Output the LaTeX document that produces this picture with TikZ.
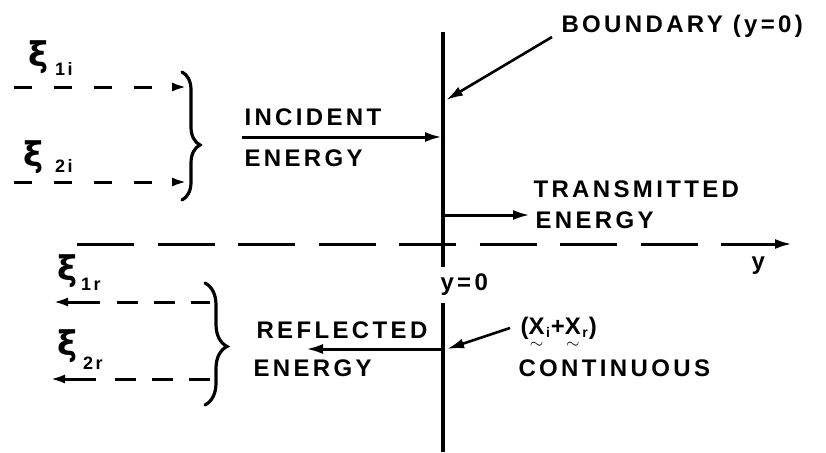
\documentclass[tikz,border=0pt]{standalone}
\usepackage{amsmath}
\usepackage{fontspec}
\setmainfont{Liberation Sans}
\newfontfamily\lblfont{Liberation Sans}[LetterSpace=14]
\newfontfamily\xifont{DejaVu Sans}
\usetikzlibrary{arrows.meta,decorations.pathreplacing}
\newcommand\tvec[1]{\ensuremath{\underset{\sim}{\text{#1}}}}
\newcommand\lowsub[1]{\kern1.5pt\raisebox{-3pt}{\fontsize{14}{14}\selectfont #1}\kern1pt}
\begin{document}
\begin{tikzpicture}[x=1pt,y=-1pt,line width=3pt,
  lbl/.style={font=\lblfont\bfseries\fontsize{24}{26}\selectfont,inner sep=0pt,anchor=base west},
  xi/.style={font=\xifont\bfseries\fontsize{34}{34}\selectfont,inner sep=0pt},
  sub/.style={font=\lblfont\bfseries\fontsize{18}{18}\selectfont,inner sep=0pt},
  bigarrow/.style={-{Latex[length=17pt,width=10pt]}},
  smallarrow/.style={-{Latex[length=15pt,width=9pt]}},
  xidash/.style={dash pattern=on 18pt off 22pt},
  rdash/.style={dash pattern=on 21pt off 16pt},
  axisdash/.style={dash pattern=on 57pt off 23.5pt},
  bracestyle/.style={decorate,line width=3.2pt,line cap=round}]
\useasboundingbox (0,0) rectangle (826,452);

% boundary line
\coordinate (btop) at (443,32);
\coordinate (bmid1) at (443,267);
\coordinate (bmid2) at (443,303);
\coordinate (bbot) at (443,452);
\draw[line width=3.6pt] (btop) -- (bmid1);
\draw[line width=3.6pt] (bmid2) -- (bbot);

% axis
\coordinate (ax0) at (77,244);
\coordinate (ax1) at (698,244);
\coordinate (ax2) at (721,244);
\coordinate (ax3) at (792,244);
\draw[axisdash] (ax0) -- (ax1);
\draw[bigarrow] (ax2) -- (ax3);
\node[lbl] (ylab) at (750,269) {y};
\node[lbl] (y0) at (439,290) {y=0};

% boundary label
\node[lbl] (bnd) at (560,33) {BOUNDARY (y=0)};
\coordinate (bndfrom) at (552,37);
\coordinate (bndto) at (446,100);
\draw[bigarrow,line width=2.6pt] (bndfrom) -- (bndto);

% incident
\node[lbl] (inc1) at (243,125) {INCIDENT};
\node[lbl] (inc2) at (243,166) {ENERGY};
\coordinate (incfrom) at (242,137);
\coordinate (incto) at (442,137);
\draw[bigarrow] (incfrom) -- (incto);

% transmitted
\node[lbl] (tr1) at (532,197) {TRANSMITTED};
\node[lbl] (tr2) at (534,228) {ENERGY};
\coordinate (trfrom) at (443,215);
\coordinate (trto) at (530,215);
\draw[bigarrow] (trfrom) -- (trto);

% reflected
\node[lbl] (rf1) at (255,338) {REFLECTED};
\node[lbl] (rf2) at (252,376) {ENERGY};
\coordinate (rffrom) at (443,349);
\coordinate (rfto) at (306,349);
\draw[bigarrow] (rffrom) -- (rfto);

% continuous
\node[lbl] (xx) at (519,334) {(\tvec{X}\lowsub{i}+\tvec{X}\lowsub{r})};
\node[lbl] (cont) at (517,376) {CONTINUOUS};
\coordinate (ctfrom) at (510,328);
\coordinate (ctto) at (447,349);
\draw[bigarrow,line width=2.6pt] (ctfrom) -- (ctto);

% incident xi lines
\node[xi] (xi1i) at (39,57) {ξ};
\node[sub] (s1i) at (64,69) {1i};
\node[xi] (xi2i) at (34,157) {ξ};
\node[sub] (s2i) at (64,166) {2i};
\coordinate (l1a) at (14,87);
\coordinate (l1b) at (187,87);
\coordinate (l2a) at (14,182);
\coordinate (l2b) at (187,182);
\draw[xidash,smallarrow] (l1a) -- (l1b);
\draw[xidash,smallarrow] (l2a) -- (l2b);
\coordinate (brt) at (182,72);
\coordinate (brb) at (182,200);
\draw[bracestyle,decoration={brace,amplitude=18pt,aspect=0.57}] (brt) -- (brb);

% reflected xi lines
\node[xi] (xi1r) at (68,271) {ξ};
\node[sub] (s1r) at (91,284) {1r};
\node[xi] (xi2r) at (68,346) {ξ};
\node[sub] (s2r) at (93,363) {2r};
\coordinate (r1a) at (100,302);
\coordinate (r1b) at (53,302);
\coordinate (r1c) at (117,302);
\coordinate (r1d) at (210,302);
\coordinate (r2a) at (96,379);
\coordinate (r2b) at (50,379);
\coordinate (r2c) at (115,379);
\coordinate (r2d) at (210,379);
\draw[smallarrow] (r1a) -- (r1b);
\draw[rdash] (r1c) -- (r1d);
\draw[smallarrow] (r2a) -- (r2b);
\draw[rdash] (r2c) -- (r2d);
\coordinate (rbt) at (205,283);
\coordinate (rbb) at (205,405);
\draw[bracestyle,decoration={brace,amplitude=22pt,aspect=0.52}] (rbt) -- (rbb);
\end{tikzpicture}
\end{document}
